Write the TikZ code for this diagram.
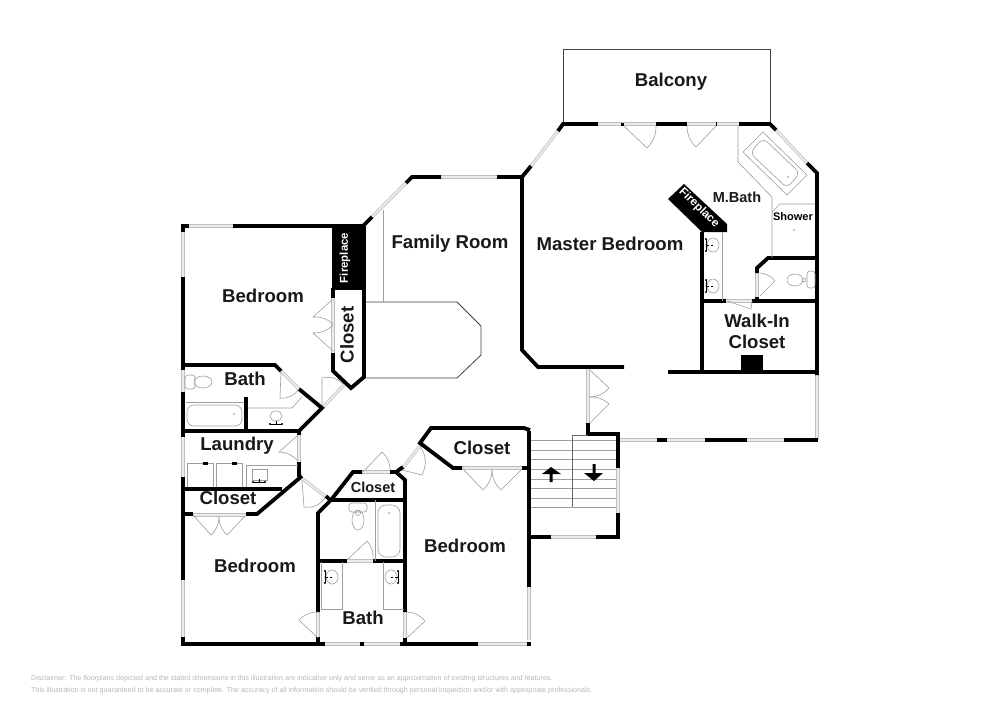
\documentclass[tikz,border=0pt]{standalone}
\usepackage{fontspec}
\setmainfont{Liberation Sans}
\usetikzlibrary{calc}
\newcommand{\faucetH}[2]{\fill (#1-6,#2) circle (1.2) (#1,#2) circle (.7) (#1+6,#2) circle (1.2); \draw[line width=.5pt] (#1-6,#2)--(#1+6,#2) (#1,#2)--(#1,#2-3);}
\newcommand{\faucetV}[2]{\fill (#1,#2-6) circle (1.2) (#1,#2) circle (.7) (#1,#2+6) circle (1.2); \draw[line width=.5pt,densely dashed] (#1,#2)--(#1+7,#2); \draw[line width=.5pt] (#1,#2-6)--(#1,#2+6);}
\begin{document}
\begin{tikzpicture}[x=1pt,y=-1pt,
  wall/.style={line width=3.8pt,line cap=butt,line join=miter,black},
  win/.style={draw=black!25,double=white!92!black,double distance=1.8pt,line width=.7pt},
  fix/.style={draw=black!38,line width=.6pt},
  leaf/.style={draw=black!38,line width=.6pt},
  thinb/.style={draw=black!75,line width=.8pt},
  lab/.style={font=\bfseries\fontsize{18.6}{20}\selectfont,text=black!90,inner sep=0pt},
  lbs/.style={font=\bfseries\fontsize{14.5}{16}\selectfont,text=black!90,inner sep=0pt}]
\useasboundingbox (0,0) rectangle (1000,707);
\fill[white] (0,0) rectangle (1000,707);
% balcony, family room opening
\draw[thinb] (563,124)--(563,49)--(770,49)--(770,124);
\draw[thinb] (364,302)--(457,302)--(481,326)--(481,355)--(457,378)--(364,378);
\draw[fix] (383,210)--(383,302);
% windows
\draw[win] (598,124)--(739,124);
\draw[win] (776,130)--(807,163);
\draw[win] (558,131)--(531,166);
\draw[win] (817,375)--(817,440);
\draw[win] (619,440)--(784,440);
\draw[win] (441,177)--(497,177);
\draw[win] (406,183)--(372,217);
\draw[win] (189,226)--(233,226);
\draw[win] (183,232)--(183,277);
\draw[win] (183,370)--(183,392);
\draw[win] (183,437)--(183,477);
\draw[win] (183,580)--(183,637);
\draw[win] (189,644)--(245,644);
\draw[win] (325,644)--(400,644);
\draw[win] (478,644)--(527,644);
\draw[win] (529,587)--(529,640);
\draw[win] (618,468)--(618,513);
\draw[win] (551,537)--(596,537);
\draw[win] (588,369)--(588,423);
\draw[win] (333,298)--(333,353);
\draw[win] (281,371)--(299,389);
\draw[win] (322,408)--(344,385);
\draw[win] (299,435)--(299,462);
\draw[win] (303,479)--(326,497);
\draw[win] (362,472)--(390,472);
\draw[win] (402,469)--(420,446);
\draw[win] (193,515)--(246,515);
\draw[win] (462,468)--(522,468);
\draw[win] (347,561)--(373,561);
\draw[win] (318,612)--(318,637);
\draw[win] (405,612)--(405,638);
\draw[win] (757,273)--(757,297);
\draw[win] (726,301)--(752,301);
% walls
\draw[wall] (563,124)--(598,124);
\draw[wall,line width=3pt] (621,124)--(624,124);
\draw[wall] (656,124)--(687,124);
\draw[wall,line width=1pt] (716,122)--(716,126);
\draw[wall] (739,124)--(770,124)--(776,130);
\draw[wall] (807,163)--(817,173)--(817,375);
\draw[wall] (558,131)--(563,124)--(570,124);
\draw[wall] (531,166)--(522,177)--(522,350)--(538,367)--(624,367);
\draw[wall] (497,177)--(522,177);
\draw[wall] (441,177)--(412,177)--(406,183);
\draw[wall] (372,217)--(363,226)--(233,226);
\draw[wall] (183,232)--(183,226)--(189,226);
\draw[wall] (183,277)--(183,370);
\draw[wall] (183,392)--(183,437);
\draw[wall] (183,477)--(183,580);
\draw[wall] (183,637)--(183,644)--(245,644);
\draw[wall] (245,644)--(325,644);
\draw[wall] (360,644)--(364,644);
\draw[wall] (400,644)--(478,644);
\draw[wall] (527,644)--(531,644);
\draw[wall] (529,587)--(529,431);
\draw[wall] (530,430)--(524,428)--(431,428)--(420,443)--(453,468)--(462,468);
\draw[wall] (522,468)--(529,468);
\draw[wall] (657,440)--(667,440);
\draw[wall] (705,440)--(747,440);
\draw[wall] (784,440)--(818,440);
\draw[wall] (588,423)--(588,434)--(620,434);
\draw[wall] (618,434)--(618,468);
\draw[wall] (618,513)--(618,537);
\draw[wall] (530,537)--(551,537);
\draw[wall] (596,537)--(620,537);
% master bath / walk-in
\draw[wall] (668,372)--(817,372);
\draw[wall] (702,232)--(702,372);
\draw[wall] (702,301)--(726,301);
\draw[wall] (752,301)--(817,301);
\draw[wall] (815,258)--(768,258)--(757,268)--(757,273);
\draw[wall] (757,297)--(757,301);
\fill[black] (741,355) rectangle (763,370);
\fill[black] (668,199)--(684,184)--(727,224)--(727,232)--(702,232)--cycle;
% west closet and fireplace
\fill[black] (332,226) rectangle (364,290);
\draw[wall] (333,288)--(333,298);
\draw[wall] (333,353)--(333,371)--(351,388)--(364,377)--(364,226);
\draw[wall] (183,365)--(275,365)--(281,371);
\draw[wall] (299,389)--(322,408)--(299,431);
\draw[wall] (183,431)--(299,431);
\draw[wall] (246,397)--(246,431);
\draw[wall] (299,429)--(299,435);
\draw[wall] (299,462)--(299,477);
\draw[wall] (183,489)--(282,489);
\draw[wall] (302,476)--(257,514)--(246,514);
\draw[wall] (183,514)--(193,514);
\draw[wall] (326,496)--(331,501);
% centre closet and bath
\draw[wall] (362,472)--(353,472)--(331,500)--(318,513)--(318,612);
\draw[wall] (318,637)--(318,644);
\draw[wall] (390,472)--(396,472)--(405,480)--(405,612);
\draw[wall] (405,638)--(405,644);
\draw[wall] (396,472)--(403,467);
\draw[wall] (331,500)--(405,500);
\draw[wall] (318,561)--(347,561);
\draw[wall] (373,561)--(405,561);
% door leaves
\draw[leaf] (624,126)--(647,148) to[bend right=22] (656,126);
\draw[leaf] (716,126)--(696,147) to[bend left=22] (687,126);
\draw[leaf] (590,370)--(609,388) to[bend left=22] (590,397);
\draw[leaf] (590,423)--(609,404) to[bend right=22] (590,397);
\draw[leaf] (760,296)--(775,281) to[bend right=22] (760,273);
\draw[leaf] (727,301)--(751,309)--(752,301);
\draw[leaf] (333,299)--(313,317) to[bend left=22] (333,324);
\draw[leaf] (333,351)--(313,333) to[bend right=22] (333,325);
\draw[leaf] (281,371)--(280,398) to[bend right=30] (299,389);
\draw[leaf] (322,405)--(322,378) to[bend left=30] (343,384);
\draw[leaf] (298,435)--(279,452) to[bend left=22] (298,461);
\draw[leaf] (302,480)--(304,507) to[bend right=30] (325,498);
\draw[leaf] (193,515)--(211,535) to[bend right=22] (219,517);
\draw[leaf] (245,516)--(227,535) to[bend left=22] (219,517);
\draw[leaf] (363,472)--(382,452) to[bend left=22] (390,470);
\draw[leaf] (402,470)--(422,475) to[bend right=30] (420,446);
\draw[leaf] (463,469)--(483,490) to[bend right=22] (492,470);
\draw[leaf] (522,469)--(501,490) to[bend left=22] (492,470);
\draw[leaf] (347,560)--(367,541) to[bend left=22] (373,560);
\draw[leaf] (318,638)--(299,620) to[bend left=22] (318,612);
\draw[leaf] (407,638)--(425,621) to[bend right=22] (407,612);
% master bath fixtures
\draw[fix] (738,126)--(738,162)--(772,197)--(772,258);
\draw[fix] (772,212)--(780,204)--(815,204);
\draw[fix] (763,132)--(807,175)--(787,195)--(743,152)--cycle;
\draw[fix,rounded corners=6pt] (750,153)--(763,138)--(800,173)--(787,188)--cycle;
\fill (788,177) circle (.6);
\fill (794,230) circle (.7);
\draw[fix] (722,232)--(722,301);
\draw[fix] (713,245) ellipse (6 and 7);
\draw[fix] (713,286) ellipse (6 and 7);
\faucetV{706}{245}
\faucetV{706}{286}
\draw[fix] (795,280) ellipse (8 and 6);
\draw[fix] (804,280) circle (2);
\draw[fix,rounded corners=3pt] (807,271) rectangle (815,288);
% upper bath fixtures
\draw[fix,rounded corners=3pt] (185,375) rectangle (195,389);
\draw[fix] (203,382) ellipse (9 and 6);
\draw[fix] (186,402)--(244,402);
\draw[fix,rounded corners=7pt] (187,405) rectangle (242,426);
\fill (234,414) circle (.6);
\draw[fix] (248,408)--(292,408)--(302,397);
\draw[fix] (276,416) ellipse (6 and 5);
\faucetH{276}{424}
% laundry fixtures
\draw[fix] (187,487)--(187,463)--(213,463)--(213,487);
\draw[fix] (216,487)--(216,463)--(242,463)--(242,487);
\fill (203,462) rectangle (208,464.5);
\fill (232,462) rectangle (237,464.5);
\draw[fix] (246,487)--(246,465)--(298,465);
\draw[fix] (252,469) rectangle (267,480);
\faucetH{259}{482}
% centre bath fixtures
\draw[fix] (375,500)--(375,561);
\draw[fix,rounded corners=8pt] (378,505) rectangle (400,557);
\fill (389,513) circle (.6);
\draw[fix,rounded corners=3pt] (349,503) rectangle (367,512);
\draw[fix] (358,520) ellipse (6 and 10);
\draw[fix] (358,513) circle (2.5);
\draw[fix] (321,562) -- (321,609)--(342,609)--(342,562);
\draw[fix] (383,562)--(383,609)--(404,609);
\draw[fix] (332,577) ellipse (6 and 7);
\draw[fix] (391,577) ellipse (6 and 7);
\faucetV{325}{577}
\begin{scope}[xscale=-1,shift={(-796,0)}]\faucetV{398}{577}\end{scope}
% stairs
\foreach \yy in {440,450,459,469,479,488,498,507} \draw[fix] (531,\yy)--(616,\yy);
\draw[thinb,draw=black!60] (572,507)--(572,435)--(588,435);
\fill (551,467)--(561,474)--(552.5,474)--(552.5,482)--(549.5,482)--(549.5,474)--(542,474)--cycle;
\fill (594,481)--(584,473)--(592.5,473)--(592.5,464)--(595.5,464)--(595.5,473)--(603,473)--cycle;
% labels
\node[lab] (balcony) at (671,82) {Balcony};
\node[lab] (family) at (450,243.5) {Family Room};
\node[lab] (master) at (610,244) {Master Bedroom};
\node[lbs] (mbath) at (737,197) {M.Bath};
\node[inner sep=0pt,font=\bfseries\fontsize{11}{12}\selectfont] (shower) at (793,217) {Shower};
\node[lab,align=center] (walkin) at (757,331) {Walk-In\\[1pt]Closet};
\node[lab,rotate=90] (closetv) at (347,335) {Closet};
\node[inner sep=0pt,rotate=90,text=white,font=\bfseries\fontsize{11.4}{13}\selectfont] (fpa) at (345,258) {Fireplace};
\node[inner sep=0pt,rotate=-44,text=white,font=\bfseries\fontsize{11.6}{13}\selectfont] (fpb) at (699,208) {Fireplace};
\node[lab] (bed1) at (263,296) {Bedroom};
\node[lab] (bath1) at (245,379) {Bath};
\node[lab] (laundry) at (237,446) {Laundry};
\node[lab] (closet1) at (228,498) {Closet};
\node[lbs] (closet2) at (373,487) {Closet};
\node[lab] (closet3) at (482,448) {Closet};
\node[lab] (bed2) at (255,566) {Bedroom};
\node[lab] (bed3) at (465,546) {Bedroom};
\node[lab] (bath2) at (363,618) {Bath};
\node[anchor=west,inner sep=0pt,text=black!28,font=\fontsize{7.13}{8}\selectfont] (disc1) at (31,679) {Disclaimer: The floorplans depicted and the stated dimensions in this illustration are indicative only and serve as an approximation of existing structures and features.};
\node[anchor=west,inner sep=0pt,text=black!28,font=\fontsize{7.13}{8}\selectfont] (disc2) at (31,691) {This illustration is not guaranteed to be accurate or complete. The accuracy of all information should be verified through personal inspection and/or with appropriate professionals.};
\end{tikzpicture}
\end{document}
